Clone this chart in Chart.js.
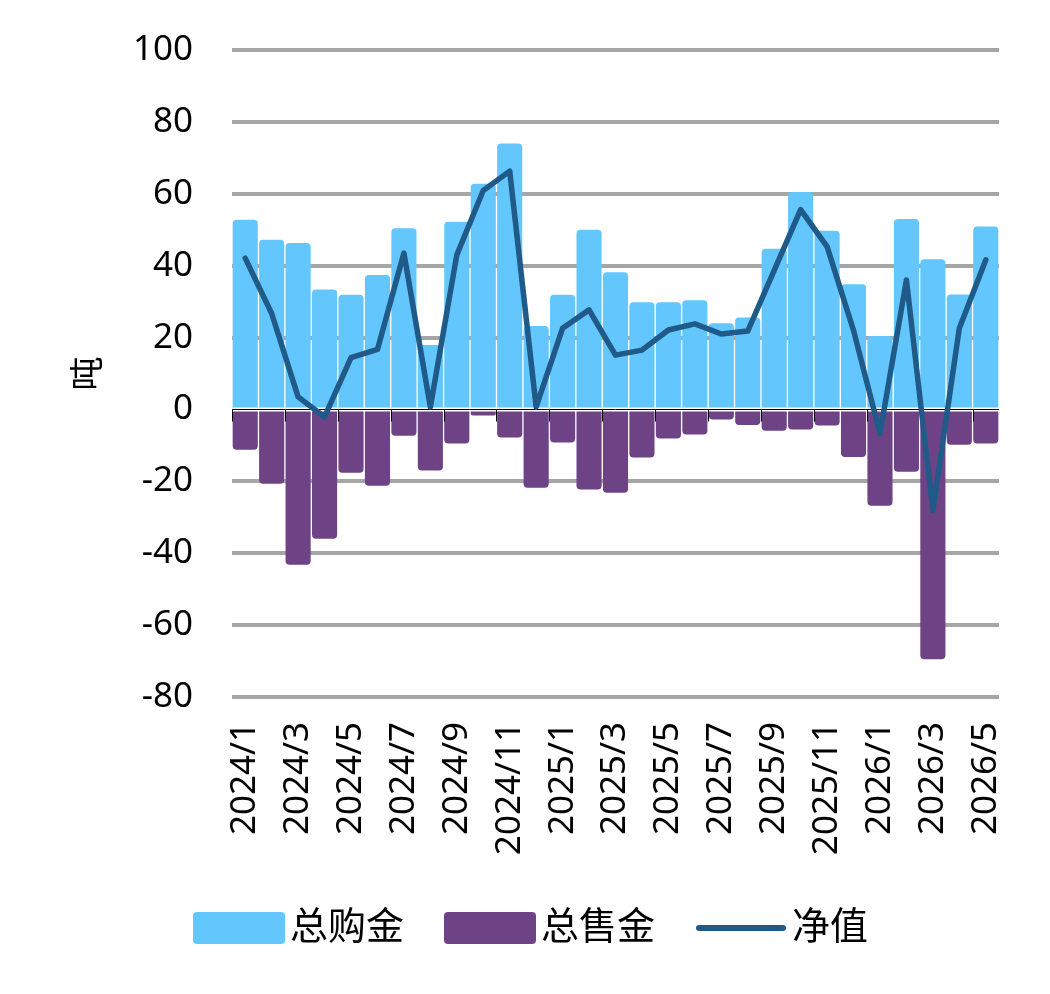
<!DOCTYPE html>
<html>
<head>
<meta charset="utf-8">
<script src="https://cdn.jsdelivr.net/npm/chart.js@4/dist/chart.umd.min.js"></script>
<style>
  body { margin: 0; background: #fff; }
</style>
</head>
<body>
<canvas id="myChart" width="1050" height="994"></canvas>
<script>
/************** 数据 ******/
var months = ["2024/1", "2024/2", "2024/3", "2024/4", "2024/5", "2024/6", "2024/7", "2024/8",
  "2024/9", "2024/10", "2024/11", "2024/12", "2025/1", "2025/2", "2025/3", "2025/4", "2025/5",
  "2025/6", "2025/7", "2025/8", "2025/9", "2025/10", "2025/11", "2025/12", "2026/1", "2026/2",
  "2026/3", "2026/4", "2026/5"];
var buyValues = [52.8, 47.2, 46.3, 33.4, 31.9, 37.4, 50.4, 17.9, 52.2, 62.8, 74.0, 23.2, 31.9, 50.0,
  38.2, 29.8, 29.8, 30.4, 24.0, 25.6, 44.7, 60.5, 49.7, 34.8, 20.4, 53.0, 41.8, 32.0, 50.9];
var sellValues = [-11.2, -20.7, -43.2, -36.0, -17.6, -21.2, -7.3, -17.0, -9.5, -1.7, -7.8, -21.8, -9.2, -22.3,
  -23.2, -13.4, -8.1, -7.0, -2.8, -4.3, -5.9, -5.6, -4.5, -13.2, -26.8, -17.3, -69.5, -9.8, -9.5];
var netValues = [42.1, 26.7, 3.5, -2.1, 14.4, 16.7, 43.5, 0.7, 43.0, 60.9, 66.3, 0.7, 22.6, 27.7,
  15.1, 16.5, 22.1, 23.8, 21.0, 21.8, 38.7, 55.6, 45.3, 22.0, -6.7, 36.0, -28.1, 22.6, 41.6];
var seriesNames = ["总购金", "总售金", "净值"];
var yRange = [-80, 100, 20];

var fontFamily = "'Noto Sans', 'Noto Sans CJK SC', sans-serif";
var clear = "rgba(0,0,0,0)";

// legend swatches as small canvases (box 92x32, or a thick line)
function swatch(color, isLine) {
  var c = document.createElement("canvas");
  c.width = 92; c.height = 32;
  var g = c.getContext("2d");
  g.fillStyle = color;
  g.strokeStyle = color;
  if (isLine) {
    g.lineWidth = 6;
    g.lineCap = "round";
    g.beginPath();
    g.moveTo(4, 16);
    g.lineTo(88, 16);
    g.stroke();
  } else if (g.roundRect) {
    g.beginPath();
    g.roundRect(0, 0, 92, 32, 4);
    g.fill();
  } else {
    g.fillRect(0, 0, 92, 32);
  }
  return c;
}

// zero axis with tick marks, drawn over the bars but under the line
var zeroAxis = {
  id: "zeroAxis",
  beforeDatasetDraw: function(chart, args) {
    if (args.index !== 2) return;
    var ctx = chart.ctx, xs = chart.scales.x, ys = chart.scales.y;
    var y0 = Math.round(ys.getPixelForValue(0)) + 0.5;
    var half = (xs.getPixelForValue(1) - xs.getPixelForValue(0)) / 2;
    ctx.save();
    ctx.strokeStyle = "#000";
    ctx.lineWidth = 1;
    ctx.beginPath();
    ctx.moveTo(chart.chartArea.left, y0);
    ctx.lineTo(chart.chartArea.right, y0);
    for (var i = 0; i <= months.length; i += 2) {
      var bx = Math.round(xs.getPixelForValue(i) - half) + 0.5;
      ctx.moveTo(bx, y0);
      ctx.lineTo(bx, y0 + 12);
    }
    ctx.stroke();
    ctx.restore();
  }
};

new Chart("myChart", {
  type: "bar",
  data: {
    labels: months,
    datasets: [{
      label: seriesNames[0],
      data: buyValues,
      backgroundColor: "#63C6FC",
      borderRadius: 4,
      grouped: false,
      order: 2
    }, {
      label: seriesNames[1],
      data: sellValues,
      backgroundColor: "#6E4386",
      borderRadius: 4,
      grouped: false,
      order: 1
    }, {
      type: "line",
      label: seriesNames[2],
      data: netValues,
      borderColor: "#1F5A89",
      backgroundColor: "#1F5A89",
      borderWidth: 5.5,
      pointRadius: 0,
      tension: 0,
      borderJoinStyle: "round",
      borderCapStyle: "round",
      order: 0
    }]
  },
  options: {
    responsive: false,
    animation: false,
    categoryPercentage: 1,
    barPercentage: 0.95,
    layout: { padding: { top: 50, right: 51, bottom: 37, left: 76 } },
    plugins: {
      tooltip: { enabled: false },
      legend: {
        position: "bottom",
        labels: {
          usePointStyle: true,
          pointStyleWidth: 64,
          boxHeight: 32,
          padding: 54,
          color: "#000",
          font: { family: fontFamily, size: 38 },
          generateLabels: function(chart) {
            return chart.data.datasets.map(function(ds, i) {
              var isLine = ds.type === "line";
              return {
                text: ds.label,
                fillStyle: ds.backgroundColor,
                strokeStyle: ds.backgroundColor,
                lineWidth: 0,
                pointStyle: swatch(ds.backgroundColor, isLine),
                datasetIndex: i,
                hidden: false
              };
            });
          }
        }
      }
    },
    scales: {
      x: {
        grid: { display: true, color: clear, drawTicks: true, tickLength: 25, tickColor: clear },
        border: { display: false },
        ticks: {
          autoSkip: false,
          minRotation: 90,
          maxRotation: 90,
          padding: 0,
          color: "#000",
          font: { family: fontFamily, size: 35 },
          callback: function(v, i) { return i % 2 === 0 ? months[i] : ""; }
        },
        afterFit: function(scale) { scale.height = 158; }
      },
      y: {
        min: yRange[0],
        max: yRange[1],
        grid: {
          drawTicks: true,
          tickLength: 19,
          tickColor: clear,
          lineWidth: 4,
          color: function(c) { return c.tick && c.tick.value === 0 ? clear : "#A6A6A6"; }
        },
        border: { display: false },
        ticks: {
          stepSize: yRange[2],
          padding: 20,
          color: "#000",
          font: { family: fontFamily, size: 35 }
        },
        title: {
          display: true,
          text: "吨",
          color: "#000",
          padding: 0,
          font: { family: fontFamily, size: 34, lineHeight: 0.8 }
        },
        afterFit: function(scale) { scale.width = 156; }
      }
    }
  },
  plugins: [zeroAxis]
});
</script>
</body>
</html>
